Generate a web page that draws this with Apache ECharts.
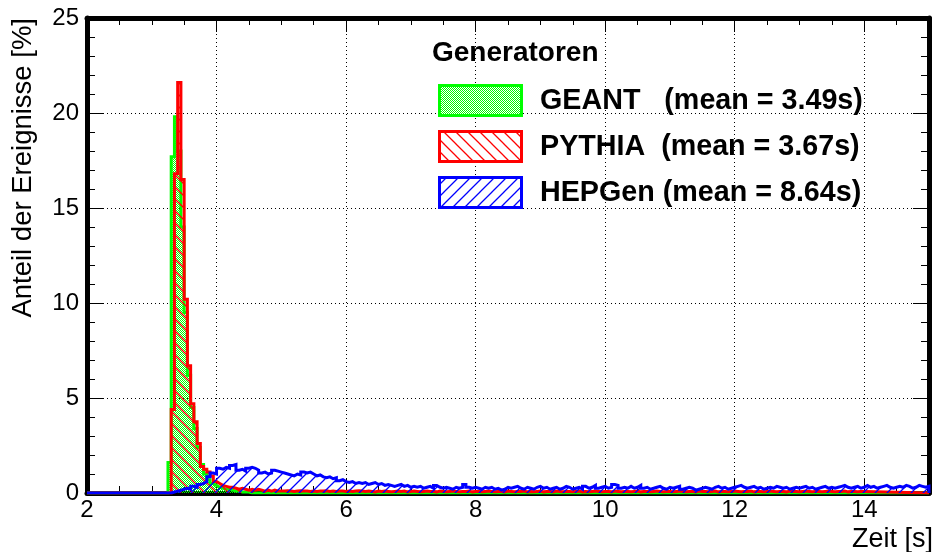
<!DOCTYPE html>
<html>
<head>
<meta charset="utf-8">
<script src="https://cdn.jsdelivr.net/npm/echarts@6/dist/echarts.min.js"></script>
<style>
html, body { margin: 0; padding: 0; background: #fff; }
#chart { width: 933px; height: 552px; }
</style>
</head>
<body>
<div id="chart"></div>
<script>
// Histogram binning (seconds)
const BIN_WIDTH = 0.05;
const X_MIN = 2, X_MAX = 15;
const Y_MIN = 0, Y_MAX = 25;
const xTickLabels = [2, 4, 6, 8, 10, 12, 14];
const yTickLabels = [0, 5, 10, 15, 20, 25];

const legendTitle = 'Generatoren';
const generatorNames = ['GEANT', 'PYTHIA', 'HEPGen'];
const generatorMeans = ['3.49s', '3.67s', '8.64s'];
const xTitle = 'Zeit [s]';
const yTitle = 'Anteil der Ereignisse [%]';

// GEANT: share of events per 0.05 s bin, first bin starts at geantStart
const geantStart = 3.25;
const geantValues = [
  1.6, 17.7, 19.8, 18.0, 14.0, 9.5, 6.2, 4.5, 3.4, 2.4,
  1.5, 1.0, 0.7, 0.5, 0.4, 0.3, 0.25, 0.2, 0.2, 0.15,
  0.1, 0.1, 0.05, 0.05, 0.05, 0.0
];

// PYTHIA
const pythiaStart = 3.30;
const pythiaValues = [
  4.4, 16.8, 21.6, 16.5, 10.2, 6.7, 4.7, 3.75, 2.6, 1.4,
  1.25, 1.1, 0.9, 0.6, 0.5, 0.4, 0.35, 0.3, 0.3, 0.25,
  0.2, 0.25, 0.2, 0.15, 0.2, 0.15, 0.2, 0.15, 0.1, 0.15,
  0.1, 0.15, 0.1, 0.1,
  0.1, 0.12, 0.1, 0.08, 0.1, 0.12, 0.1, 0.1, 0.08, 0.1,
  0.08, 0.1, 0.1, 0.12, 0.08, 0.1, 0.08, 0.1, 0.1, 0.08,
  0.1, 0.08, 0.1, 0.12, 0.1, 0.08, 0.1, 0.08, 0.06, 0.1,
  0.08, 0.1, 0.08, 0.06, 0.08, 0.1, 0.08, 0.1, 0.06, 0.08,
  0.1, 0.08, 0.06, 0.08, 0.1, 0.08, 0.08, 0.06, 0.1, 0.08,
  0.06, 0.08, 0.1, 0.08, 0.06, 0.08, 0.08, 0.1, 0.06, 0.08,
  0.08, 0.06, 0.08, 0.1, 0.08, 0.06, 0.08, 0.08, 0.06, 0.1,
  0.08, 0.06, 0.08, 0.08, 0.1, 0.06, 0.08, 0.06, 0.08, 0.1,
  0.06, 0.08, 0.08, 0.06, 0.1, 0.08, 0.06, 0.08, 0.08, 0.06,
  0.08, 0.1, 0.06, 0.08, 0.06, 0.08, 0.1, 0.08, 0.06, 0.08,
  0.08, 0.06, 0.1, 0.08, 0.06, 0.08, 0.08, 0.06, 0.08, 0.1,
  0.06, 0.08, 0.08, 0.06, 0.08, 0.1, 0.08, 0.06, 0.08, 0.08,
  0.06, 0.08, 0.1, 0.08, 0.06, 0.08, 0.08, 0.06, 0.1, 0.08,
  0.08, 0.06, 0.08, 0.1, 0.06, 0.08, 0.08, 0.06, 0.08, 0.1,
  0.08, 0.06, 0.08, 0.08, 0.1, 0.06, 0.08, 0.08, 0.06, 0.08,
  0.1, 0.08, 0.06, 0.08, 0.08, 0.06, 0.1, 0.08, 0.08, 0.06,
  0.08, 0.1, 0.08, 0.06, 0.08, 0.08, 0.06, 0.08, 0.1, 0.08,
  0.06, 0.08, 0.08, 0.1, 0.06, 0.08, 0.08, 0.06, 0.08, 0.08
];

// HEPGen
const hepgenStart = 3.30;
const hepgenValues = [
  0.05, 0.1, 0.15, 0.2, 0.25, 0.2, 0.35, 0.3, 0.45, 0.5, 0.6, 0.85, 1.05, 1.0,
  1.3, 1.25, 1.35, 1.3, 1.45, 1.5, 1.2, 1.25, 1.15, 1.3,
  1.35, 1.3, 1.2, 1.05, 1.1, 1.0, 1.05, 1.2, 1.15, 1.1,
  1.05, 1.0, 0.95, 0.9, 1.0, 0.95, 1.1, 1.05, 1.1, 1.0,
  0.9, 0.95, 0.85, 0.8, 0.85, 0.75, 0.8, 0.65, 0.7, 0.6,
  0.55, 0.6, 0.5, 0.55, 0.5, 0.55, 0.45, 0.5, 0.55, 0.45,
  0.5, 0.4, 0.45, 0.4, 0.35, 0.4, 0.45, 0.35, 0.4, 0.3,
  0.35, 0.3, 0.35, 0.25, 0.3, 0.35, 0.25, 0.4, 0.3, 0.25,
  0.3, 0.25, 0.2, 0.3, 0.25, 0.3, 0.45, 0.3, 0.25, 0.3,
  0.25, 0.2, 0.3, 0.25, 0.3, 0.2, 0.25, 0.15, 0.2, 0.3,
  0.25, 0.3, 0.35, 0.25, 0.2, 0.3, 0.25, 0.2, 0.3, 0.35,
  0.25, 0.3, 0.2, 0.25, 0.3, 0.2, 0.25, 0.35, 0.3, 0.2,
  0.25, 0.3, 0.2, 0.35, 0.25, 0.3, 0.4, 0.25, 0.3, 0.35,
  0.25, 0.3, 0.45, 0.4, 0.25, 0.3, 0.25, 0.35, 0.25, 0.3,
  0.4, 0.25, 0.3, 0.2, 0.25, 0.3, 0.35, 0.25, 0.2, 0.3,
  0.25, 0.3, 0.35, 0.2, 0.25, 0.3, 0.25, 0.15, 0.2, 0.25,
  0.3, 0.25, 0.2, 0.3, 0.35, 0.25, 0.3, 0.2, 0.25, 0.3,
  0.35, 0.4, 0.3, 0.25, 0.3, 0.35, 0.25, 0.3, 0.2, 0.25,
  0.3, 0.25, 0.35, 0.3, 0.25, 0.3, 0.2, 0.25, 0.3, 0.25,
  0.3, 0.35, 0.25, 0.3, 0.2, 0.25, 0.3, 0.35, 0.25, 0.3,
  0.25, 0.3, 0.35, 0.4, 0.3, 0.25, 0.3, 0.35, 0.25, 0.3,
  0.4, 0.3, 0.35, 0.25, 0.3, 0.35, 0.4, 0.3, 0.25, 0.3,
  0.35, 0.3, 0.4, 0.35, 0.25, 0.3, 0.4, 0.35, 0.3, 0.35
];

const FONT = '"Liberation Sans", Arial, Helvetica, sans-serif';
const GREEN = '#00ff00', RED = '#ff0000', BLUE = '#0000ff';

// ---- fill patterns (ROOT-like hatches) ----
function dotPattern(color) {
  const c = document.createElement('canvas');
  c.width = 2; c.height = 2;
  const g = c.getContext('2d');
  g.fillStyle = color;
  g.fillRect(0, 0, 1, 1);
  g.fillRect(1, 1, 1, 1);
  return c;
}
function hatchPattern(color, rising, size) {
  const c = document.createElement('canvas');
  c.width = size; c.height = size;
  const g = c.getContext('2d');
  g.strokeStyle = color;
  g.lineWidth = 1.3;
  g.beginPath();
  if (rising) {
    g.moveTo(-2, size + 2); g.lineTo(size + 2, -2);
    g.moveTo(-2, 2); g.lineTo(2, -2);
    g.moveTo(size - 2, size + 2); g.lineTo(size + 2, size - 2);
  } else {
    g.moveTo(-2, -2); g.lineTo(size + 2, size + 2);
    g.moveTo(-2, size - 2); g.lineTo(2, size + 2);
    g.moveTo(size - 2, -2); g.lineTo(size + 2, 2);
  }
  g.stroke();
  return c;
}
const greenFill = { image: dotPattern(GREEN), repeat: 'repeat' };
const redFill = { image: hatchPattern(RED, false, 12), repeat: 'repeat' };
const blueFill = { image: hatchPattern(BLUE, true, 12), repeat: 'repeat' };

// Step outline points for a histogram starting at `start`
function histPoints(start, values) {
  const pts = [[X_MIN, 0], [start, 0]];
  values.forEach((v, i) => pts.push([+(start + i * BIN_WIDTH).toFixed(4), v]));
  const end = +(start + values.length * BIN_WIDTH).toFixed(4);
  pts.push([end, values[values.length - 1]]);
  pts.push([end, 0]);
  if (end < X_MAX) pts.push([X_MAX, 0]);
  return pts;
}

function histSeries(name, color, fill, start, values, z) {
  return {
    name: name,
    type: 'line',
    step: 'end',
    data: histPoints(start, values),
    symbol: 'none',
    silent: true,
    clip: true,
    z: z,
    lineStyle: { color: color, width: 3, join: 'miter' },
    areaStyle: { color: fill, opacity: 1, origin: 'start' }
  };
}

const chart = echarts.init(document.getElementById('chart'), null, { renderer: 'canvas' });

const axisLineStyle = { color: '#000', width: 5 };
const tickStyle = { color: '#000', width: 1 };
const gridDots = { color: '#000', width: 1, type: [1, 3] };

const legendRows = [
  { y: 84, fill: greenFill, stroke: GREEN },
  { y: 130, fill: redFill, stroke: RED },
  { y: 176, fill: blueFill, stroke: BLUE }
];
const legendLabels = generatorNames.map((n, i) => {
  const pad = n === 'GEANT' ? '   ' : (n === 'PYTHIA' ? '  ' : ' ');
  return n + pad + '(mean = ' + generatorMeans[i] + ')';
});

const graphics = [
  {
    type: 'text', z: 20, x: 432, y: 53,
    style: { text: legendTitle, font: 'bold 28px ' + FONT, fill: '#000', verticalAlign: 'middle' }
  },
  {
    type: 'text', z: 20,
    x: 933, y: 540,
    style: { text: xTitle, font: '27px ' + FONT, fill: '#000', align: 'right', verticalAlign: 'middle' }
  },
  {
    type: 'text', z: 20,
    x: 23, y: 18, rotation: Math.PI / 2,
    style: { text: yTitle, font: '27.5px ' + FONT, fill: '#000', align: 'right', verticalAlign: 'middle' }
  }
];
legendRows.forEach((r, i) => {
  graphics.push({
    type: 'rect', z: 20,
    shape: { x: 439.5, y: r.y + 1.5, width: 82, height: 30 },
    style: { fill: '#fff', stroke: null }
  });
  graphics.push({
    type: 'rect', z: 21,
    shape: { x: 439.5, y: r.y + 1.5, width: 82, height: 30 },
    style: { fill: r.fill, stroke: r.stroke, lineWidth: 3 }
  });
  graphics.push({
    type: 'text', z: 21, x: 540, y: r.y + 17,
    style: { text: legendLabels[i], font: 'bold 28.7px ' + FONT, fill: '#000', verticalAlign: 'middle' }
  });
});

const option = {
  animation: false,
  backgroundColor: '#fff',
  grid: { left: 87, right: 4, top: 18, bottom: 59, containLabel: false, outerBoundsMode: 'none' },
  xAxis: [
    {
      type: 'value', min: X_MIN, max: X_MAX, interval: 2, position: 'bottom',
      axisLine: { show: true, onZero: false, lineStyle: axisLineStyle },
      axisTick: { show: true, inside: true, length: 14, lineStyle: tickStyle },
      minorTick: { show: true, splitNumber: 4, length: 7, lineStyle: tickStyle },
      axisLabel: {
        show: true, color: '#000', fontSize: 24, fontFamily: FONT, margin: 5,
        formatter: v => (xTickLabels.indexOf(v) >= 0 ? String(v) : '')
      },
      splitLine: { show: true, lineStyle: gridDots }
    },
    {
      type: 'value', min: X_MIN, max: X_MAX, interval: 2, position: 'top',
      axisLine: { show: true, onZero: false, lineStyle: axisLineStyle },
      axisTick: { show: true, inside: true, length: 14, lineStyle: tickStyle },
      minorTick: { show: true, splitNumber: 4, length: 7, lineStyle: tickStyle },
      axisLabel: { show: false },
      splitLine: { show: false }
    }
  ],
  yAxis: [
    {
      type: 'value', min: Y_MIN, max: Y_MAX, interval: 5, position: 'left',
      axisLine: { show: true, onZero: false, lineStyle: axisLineStyle },
      axisTick: { show: true, inside: true, length: 16, lineStyle: tickStyle },
      minorTick: { show: true, splitNumber: 5, length: 8, lineStyle: tickStyle },
      axisLabel: {
        show: true, color: '#000', fontSize: 24, fontFamily: FONT, margin: 8,
        formatter: v => (yTickLabels.indexOf(v) >= 0 ? String(v) : '')
      },
      splitLine: { show: true, lineStyle: gridDots }
    },
    {
      type: 'value', min: Y_MIN, max: Y_MAX, interval: 5, position: 'right',
      axisLine: { show: true, onZero: false, lineStyle: axisLineStyle },
      axisTick: { show: true, inside: true, length: 16, lineStyle: tickStyle },
      minorTick: { show: true, splitNumber: 5, length: 8, lineStyle: tickStyle },
      axisLabel: { show: false },
      splitLine: { show: false }
    }
  ],
  series: [
    histSeries(generatorNames[0], GREEN, greenFill, geantStart, geantValues, 3),
    histSeries(generatorNames[1], RED, redFill, pythiaStart, pythiaValues, 4),
    histSeries(generatorNames[2], BLUE, blueFill, hepgenStart, hepgenValues, 5)
  ],
  graphic: graphics
};

chart.setOption(option);
</script>
</body>
</html>
